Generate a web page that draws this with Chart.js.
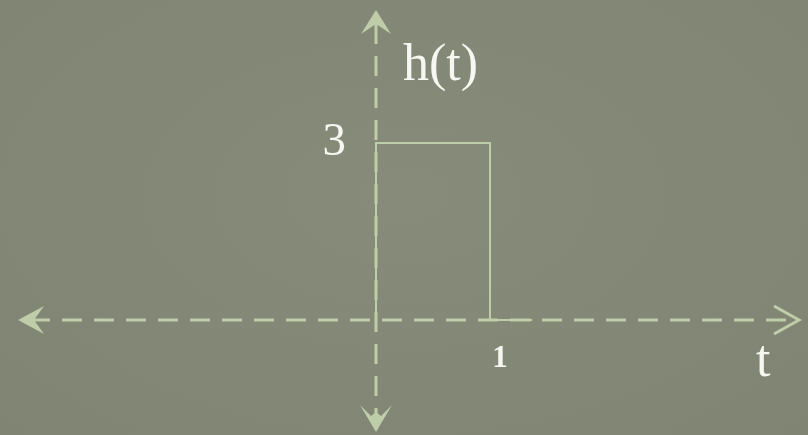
<!DOCTYPE html>
<html lang="en">
<head>
    <meta charset="UTF-8">
    <title>h(t)</title>
    <script src="https://cdn.jsdelivr.net/npm/chart.js"></script>
    <style>
        html, body {
            margin: 0;
            padding: 0;
            background: #828776;
            overflow: hidden;
        }
        #wrap {
            width: 808px;
            height: 435px;
            background: radial-gradient(ellipse at 50% 45%, #868b7a 0%, #7f8473 100%);
        }
    </style>
</head>
<body>

<div id="wrap">
    <canvas id="pulse" width="808" height="435"></canvas>
</div>

<script>
    // rectangular pulse h(t): 3 for 0 < t < 1, then 0
    const tValues = [0, 0, 1, 1, 1.37];
    const hValues = [0, 3, 3, 0, 0];
    const yTick = { value: 3, label: '3' };
    const xTick = { value: 1, label: '1' };
    const yName = 'h(t)';
    const xName = 't';

    const lineColor = '#bfcda9';
    const textColor = '#f7f7f2';

    // dashed axes with arrowheads and the labels
    const axesPlugin = {
        id: 'axes',
        beforeDatasetsDraw(chart) {
            const { ctx, scales: { x, y } } = chart;
            const x0 = x.getPixelForValue(0);
            const y0 = y.getPixelForValue(0);
            ctx.save();
            ctx.strokeStyle = lineColor;
            ctx.fillStyle = lineColor;
            ctx.lineWidth = 3;
            ctx.setLineDash([20, 12]);

            ctx.beginPath();
            ctx.moveTo(30, y0);
            ctx.lineTo(790, y0);
            ctx.stroke();

            ctx.beginPath();
            ctx.moveTo(x0, 24);
            ctx.lineTo(x0, 418);
            ctx.stroke();
            ctx.setLineDash([]);

            // left arrow (filled barb)
            ctx.beginPath();
            ctx.moveTo(18, y0);
            ctx.lineTo(44, y0 - 14);
            ctx.lineTo(34, y0);
            ctx.lineTo(44, y0 + 14);
            ctx.closePath();
            ctx.fill();

            // right arrow (open chevron)
            ctx.lineWidth = 3;
            ctx.beginPath();
            ctx.moveTo(774, y0 - 14);
            ctx.lineTo(799, y0);
            ctx.lineTo(774, y0 + 14);
            ctx.stroke();

            // top arrow
            ctx.beginPath();
            ctx.moveTo(x0, 10);
            ctx.lineTo(x0 + 15, 34);
            ctx.lineTo(x0, 24);
            ctx.lineTo(x0 - 15, 34);
            ctx.closePath();
            ctx.fill();

            // bottom arrow
            ctx.beginPath();
            ctx.moveTo(x0, 432);
            ctx.lineTo(x0 + 16, 405);
            ctx.lineTo(x0 + 5, 416);
            ctx.lineTo(x0, 412);
            ctx.lineTo(x0 - 5, 416);
            ctx.lineTo(x0 - 16, 405);
            ctx.closePath();
            ctx.fill();
            ctx.restore();
        },
        afterDatasetsDraw(chart) {
            const { ctx, scales: { x, y } } = chart;
            const x0 = x.getPixelForValue(0);
            const y0 = y.getPixelForValue(0);
            ctx.save();
            ctx.fillStyle = textColor;
            ctx.textBaseline = 'alphabetic';

            ctx.font = '52px "Liberation Serif", serif';
            ctx.textAlign = 'left';
            ctx.fillText(yName, x0 + 27, 80);

            ctx.font = '47px "Liberation Serif", serif';
            ctx.textAlign = 'right';
            ctx.fillText(yTick.label, x0 - 30, y.getPixelForValue(yTick.value) + 12);

            ctx.font = '52px "Liberation Serif", serif';
            ctx.textAlign = 'left';
            ctx.fillText(xName, 756, y0 + 56);

            ctx.font = 'bold 31px "Liberation Serif", serif';
            ctx.textAlign = 'center';
            ctx.fillText(xTick.label, x.getPixelForValue(xTick.value) + 10, y0 + 47);
            ctx.restore();
        }
    };

    new Chart(document.getElementById('pulse'), {
        type: 'scatter',
        data: {
            datasets: [{
                data: tValues.map((t, i) => ({ x: t, y: hValues[i] })),
                showLine: true,
                borderColor: lineColor,
                borderWidth: 2,
                pointRadius: 0,
                tension: 0
            }]
        },
        options: {
            responsive: false,
            animation: false,
            layout: { padding: 0 },
            plugins: {
                legend: { display: false },
                tooltip: { enabled: false }
            },
            scales: {
                x: { type: 'linear', display: false, min: -3.298, max: 3.789 },
                y: { type: 'linear', display: false, min: -1.949, max: 5.424 }
            }
        },
        plugins: [axesPlugin]
    });
</script>

</body>
</html>
